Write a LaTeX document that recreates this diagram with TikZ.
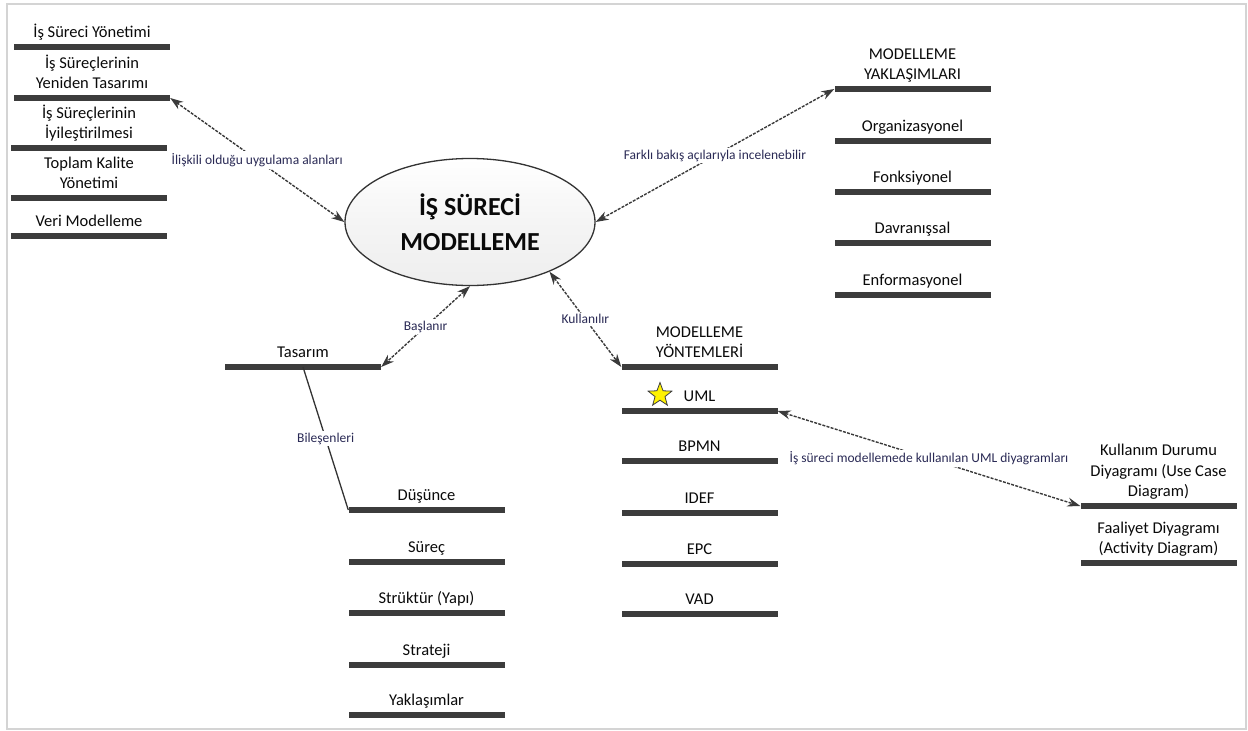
\documentclass[tikz,border=0pt]{standalone}
\usepackage{fontspec}
\setmainfont{Carlito}
\usetikzlibrary{arrows.meta,shapes.geometric}
\definecolor{barc}{HTML}{3C3C3C}
\definecolor{linec}{HTML}{3A3A3A}
\definecolor{lblc}{HTML}{2A2A55}
\definecolor{txtc}{HTML}{0A0A0A}
\definecolor{ellfill}{HTML}{EEEEEE}
\definecolor{framec}{HTML}{D4D4D4}
\begin{document}
\begin{tikzpicture}[x=1pt,y=-1pt,
  bar/.style={fill=barc, draw=none, minimum width=156pt, minimum height=6.5pt, inner sep=0pt},
  itemtext/.style={anchor=south, inner sep=0pt, text depth=0pt, yshift=5.5pt, align=center, text=txtc, font=\fontsize{16.5}{20.5}\selectfont},
  link/.style={draw=linec, line width=1.4pt, dash pattern=on 3pt off 1.3pt, {Stealth[length=13pt,width=9pt]}-{Stealth[length=13pt,width=9pt]}},
  linklabel/.style={fill=white, inner sep=2pt, text=lblc, font=\fontsize{13.5}{16}\selectfont},
  ]
\useasboundingbox (0,0) rectangle (1248,731);
\draw[framec, line width=1.5pt] (7,4) rectangle (1246,729);

% central ellipse
\node[ellipse, draw=black!80, top color=white, bottom color=ellfill, middle color=ellfill!60!white, line width=1.3pt, minimum width=250pt, minimum height=127pt, align=center, text=txtc, font=\fontsize{26}{35}\selectfont\bfseries] (ell) at (470,222) {İŞ SÜRECİ\\MODELLEME};

% left list
\node[bar] (b1) at (92,47) {};
\node[bar] (b2) at (92,98) {};
\node[bar] (b3) at (89,148) {};
\node[bar] (b4) at (89,198) {};
\node[bar] (b5) at (89,236) {};
\node[itemtext] (t1) at (b1.north) {İş Süreci Yönetimi};
\node[itemtext] (t2) at (b2.north) {İş Süreçlerinin\\Yeniden Tasarımı};
\node[itemtext] (t3) at (b3.north) {İş Süreçlerinin\\İyileştirilmesi};
\node[itemtext] (t4) at (b4.north) {Toplam Kalite\\Yönetimi};
\node[itemtext] (t5) at (b5.north) {Veri Modelleme};

% right top list
\node[bar] (r1) at (912.5,89) {};
\node[bar] (r2) at (912.5,141) {};
\node[bar] (r3) at (912.5,192) {};
\node[bar] (r4) at (912.5,243) {};
\node[bar] (r5) at (912.5,295) {};
\node[itemtext] (rt1) at (r1.north) {MODELLEME\\YAKLAŞIMLARI};
\node[itemtext] (rt2) at (r2.north) {Organizasyonel};
\node[itemtext] (rt3) at (r3.north) {Fonksiyonel};
\node[itemtext] (rt4) at (r4.north) {Davranışsal};
\node[itemtext] (rt5) at (r5.north) {Enformasyonel};

% Tasarim
\node[bar] (tb) at (303,367) {};
\node[itemtext] (tt) at (tb.north) {Tasarım};

% Dusunce list
\node[bar] (d1) at (426.5,510) {};
\node[bar] (d2) at (426.5,562) {};
\node[bar] (d3) at (426.5,613) {};
\node[bar] (d4) at (426.5,665) {};
\node[bar] (d5) at (426.5,715) {};
\node[itemtext] (dt1) at (d1.north) {Düşünce};
\node[itemtext] (dt2) at (d2.north) {Süreç};
\node[itemtext] (dt3) at (d3.north) {Strüktür (Yapı)};
\node[itemtext] (dt4) at (d4.north) {Strateji};
\node[itemtext] (dt5) at (d5.north) {Yaklaşımlar};

% Modelleme yontemleri
\node[bar] (m0) at (699.5,367) {};
\node[bar] (m1) at (699.5,411) {};
\node[bar] (m2) at (699.5,461) {};
\node[bar] (m3) at (699.5,513) {};
\node[bar] (m4) at (699.5,564) {};
\node[bar] (m5) at (699.5,614) {};
\node[itemtext] (mt0) at (m0.north) {MODELLEME\\YÖNTEMLERİ};
\node[itemtext] (mt1) at (m1.north) {UML};
\node[itemtext] (mt2) at (m2.north) {BPMN};
\node[itemtext] (mt3) at (m3.north) {IDEF};
\node[itemtext] (mt4) at (m4.north) {EPC};
\node[itemtext] (mt5) at (m5.north) {VAD};
\node[star, star points=5, star point ratio=2.4, fill=yellow, draw=black!75, line width=0.8pt, minimum size=25pt, inner sep=0pt] (star) at (660,395) {};

% UML diagrams
\node[bar] (u1) at (1158.5,506) {};
\node[bar] (u2) at (1158.5,563) {};
\node[itemtext] (ut1) at (u1.north) {Kullanım Durumu\\Diyagramı (Use Case\\Diagram)};
\node[itemtext] (ut2) at (u2.north) {Faaliyet Diyagramı\\(Activity Diagram)};

% connectors
\draw[link] (b2.east) -- node[linklabel, midway] (l1) {İlişkili olduğu uygulama alanları} (ell.west);
\draw[link] (ell.east) -- node[linklabel, midway] (l2) {Farklı bakış açılarıyla incelenebilir} (r1.west);
\draw[link] (ell.south) -- node[linklabel, midway] (l3) {Başlanır} (tb.east);
\draw[link] (ell.-32) -- node[linklabel, midway] (l4) {Kullanılır} (m0.west);
\draw[link] (m1.east) -- node[linklabel, midway] (l5) {İş süreci modellemede kullanılan UML diyagramları} (u1.west);
\draw[draw=black!80, line width=1.3pt] (tb.center) -- node[linklabel, midway] (l6) {Bileşenleri} (d1.west);
\end{tikzpicture}
\end{document}
